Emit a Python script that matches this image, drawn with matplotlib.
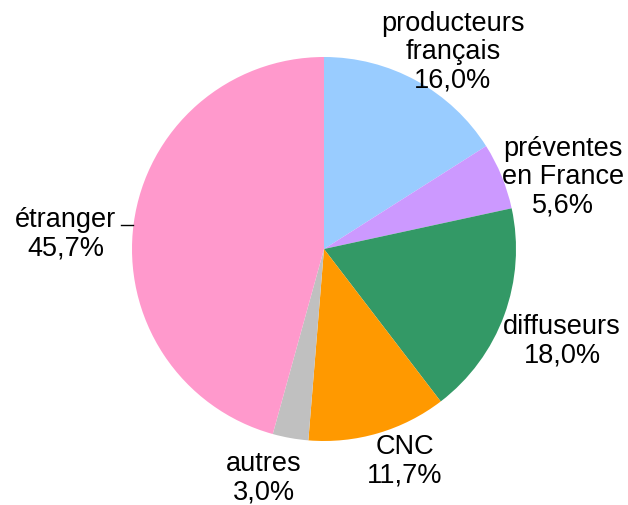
import matplotlib
matplotlib.use("Agg")
import matplotlib.pyplot as plt

# parts of the budget, clockwise from 12 o'clock
labels = ["producteurs\nfrançais", "préventes\nen France", "diffuseurs", "CNC", "autres", "étranger"]
shares = [16.0, 5.6, 18.0, 11.7, 3.0, 45.7]
colors = ["#99CCFF", "#CC99FF", "#339966", "#FF9900", "#C0C0C0", "#FF99CC"]

# label centres in pixels (image coords, y down)
label_pos = [(453, 52), (563, 177), (562, 341), (405, 461), (264, 478), (66, 234)]

W, H = 628, 505
fig = plt.figure(figsize=(W / 100, H / 100), dpi=100)
ax = fig.add_axes([0, 0, 1, 1])

ax.pie(shares, colors=colors, startangle=90, counterclock=False,
       center=(324, H - 249), radius=192, frame=True,
       wedgeprops=dict(linewidth=0))
ax.set_xlim(0, W)
ax.set_ylim(0, H)
ax.set_aspect("equal")
ax.axis("off")

for lab, val, (x, y) in zip(labels, shares, label_pos):
    txt = lab + "\n" + f"{val:.1f}".replace(".", ",") + "%"
    ax.text(x, H - y, txt, ha="center", va="center", fontsize=19.5,
            family="Liberation Sans", linespacing=1.12)

# leader line for "étranger"
ax.plot([121, 133], [H - 225, H - 225], color="black", lw=1)

fig.savefig("out.png", dpi=100)
